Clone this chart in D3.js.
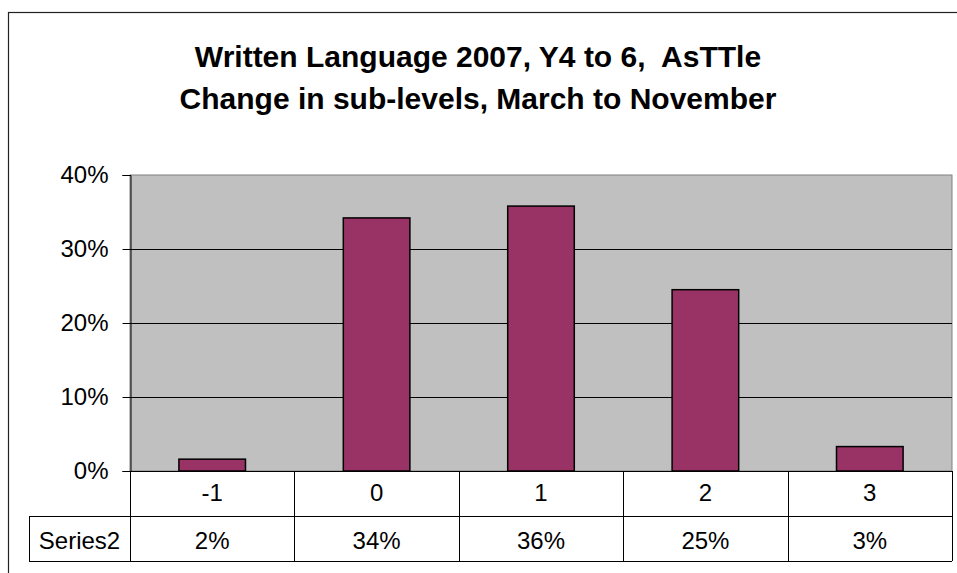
<!DOCTYPE html>
<html>
<head>
    <title>Written Language 2007</title>
    <style type="text/css">
        body { margin: 0; background: #fff; }
        svg text { font-family: "Liberation Sans", Arial, sans-serif; fill: #000; white-space: pre; }
    </style>
</head>
<body>
    <script src="https://d3js.org/d3.v7.min.js" type="text/javascript"></script>
    <script type="text/javascript">

        // data
        var categories = ['-1', '0', '1', '2', '3'];
        var values = [0.016, 0.342, 0.358, 0.245, 0.033];
        var tableLabels = ['2%', '34%', '36%', '25%', '3%'];
        var yTicks = [0, 0.1, 0.2, 0.3, 0.4];
        var seriesName = 'Series2';
        var titleLines = ['Written Language 2007, Y4 to 6,  AsTTle', 'Change in sub-levels, March to November'];

        var W = 957, H = 573;
        var plot = { left: 130, top: 175, right: 952, bottom: 471 };
        var rowH = 45;
        var fs = '24px';

        var svg = d3.select('body').append('svg')
            .attr('width', W)
            .attr('height', H);

        // chart frame
        svg.append('rect')
            .attr('x', 8.5).attr('y', 12.5)
            .attr('width', 1000).attr('height', 1000)
            .attr('fill', '#fff')
            .attr('stroke', '#222').attr('stroke-width', 1.2);

        var x = d3.scaleBand()
            .domain(categories)
            .range([plot.left, plot.right])
            .paddingInner(0.595)
            .paddingOuter(0.2975);
        var xCell = d3.scaleBand()
            .domain(categories)
            .range([plot.left, plot.right]);
        var y = d3.scaleLinear()
            .domain([0, 0.4])
            .range([plot.bottom, plot.top]);

        // title
        svg.selectAll('text.title')
            .data(titleLines)
            .enter().append('text')
            .attr('class', 'title')
            .attr('x', 478)
            .attr('y', function (d, i) { return 67 + i * 42; })
            .attr('text-anchor', 'middle')
            .style('font-size', '30px')
            .style('font-weight', 'bold')
            .text(function (d) { return d; });

        // plot background
        svg.append('rect')
            .attr('x', plot.left).attr('y', plot.top)
            .attr('width', plot.right - plot.left)
            .attr('height', plot.bottom - plot.top)
            .attr('fill', '#c0c0c0')
            .attr('stroke', '#808080').attr('stroke-width', 1);

        // gridlines
        svg.append('g').selectAll('line')
            .data(yTicks.slice(1, -1))
            .enter().append('line')
            .attr('x1', plot.left).attr('x2', plot.right)
            .attr('y1', function (d) { return Math.round(y(d)) + 0.5; })
            .attr('y2', function (d) { return Math.round(y(d)) + 0.5; })
            .attr('stroke', '#000').attr('stroke-width', 1);

        // y axis
        var yAxis = d3.axisLeft(y)
            .tickValues(yTicks)
            .tickFormat(d3.format('.0%'))
            .tickSize(8)
            .tickPadding(14);
        var gy = svg.append('g')
            .attr('transform', 'translate(' + (plot.left + 0.5) + ',0)')
            .call(yAxis);
        gy.select('.domain').attr('stroke', '#000');
        gy.selectAll('.tick line').attr('stroke', '#000');
        gy.selectAll('.tick text')
            .style('font-family', '"Liberation Sans", Arial, sans-serif')
            .style('font-size', fs)
            .attr('fill', '#000');

        // bars
        svg.append('g').selectAll('rect')
            .data(values)
            .enter().append('rect')
            .attr('x', function (d, i) { return x(categories[i]); })
            .attr('y', function (d) { return y(d); })
            .attr('width', x.bandwidth())
            .attr('height', function (d) { return plot.bottom - y(d); })
            .attr('fill', '#993366')
            .attr('stroke', '#000').attr('stroke-width', 1.5);

        // data table
        var t = svg.append('g');
        var row1 = plot.bottom, row2 = plot.bottom + rowH, row3 = plot.bottom + 2 * rowH;
        var line = function (x1, y1, x2, y2) {
            t.append('line')
                .attr('x1', x1).attr('y1', y1).attr('x2', x2).attr('y2', y2)
                .attr('stroke', '#000').attr('stroke-width', 1);
        };
        line(plot.left, row1 + 0.5, plot.right, row1 + 0.5);
        line(29, row2 + 0.5, plot.right, row2 + 0.5);
        line(29, row3 + 0.5, plot.right, row3 + 0.5);
        line(29.5, row2, 29.5, row3);
        categories.forEach(function (c) {
            var cx = Math.round(xCell(c)) + 0.5;
            line(cx, row1, cx, row3);
        });
        line(plot.right + 0.5, row1, plot.right + 0.5, row3);

        t.selectAll('text.cat')
            .data(categories)
            .enter().append('text')
            .attr('x', function (d) { return xCell(d) + xCell.bandwidth() / 2; })
            .attr('y', row1 + 30)
            .attr('text-anchor', 'middle')
            .style('font-size', fs)
            .text(function (d) { return d; });

        t.selectAll('text.val')
            .data(tableLabels)
            .enter().append('text')
            .attr('x', function (d, i) { return xCell(categories[i]) + xCell.bandwidth() / 2; })
            .attr('y', row2 + 33)
            .attr('text-anchor', 'middle')
            .style('font-size', fs)
            .text(function (d) { return d; });

        t.append('text')
            .attr('x', 79.5)
            .attr('y', row2 + 33)
            .attr('text-anchor', 'middle')
            .style('font-size', fs)
            .text(seriesName);

    </script>
</body>
</html>
